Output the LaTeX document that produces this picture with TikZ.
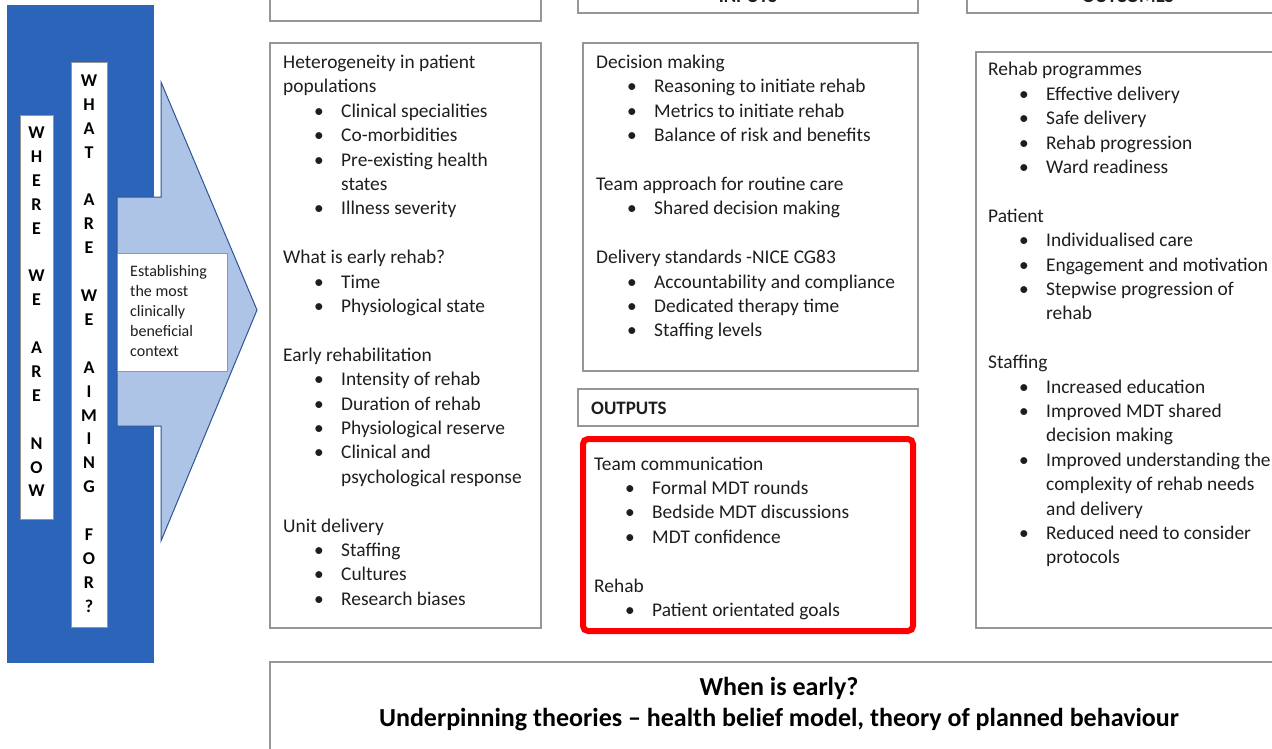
\documentclass[tikz,border=0pt]{standalone}
\usepackage{fontspec}
\setmainfont{Carlito}
\definecolor{panelblue}{RGB}{44,100,185}
\definecolor{arrowfill}{RGB}{174,196,230}
\definecolor{arrowline}{RGB}{47,85,151}
\definecolor{boxgray}{RGB}{150,150,150}
\definecolor{txt}{RGB}{30,30,30}
\newcommand\bl[1]{\hspace*{31pt}\makebox[27pt][l]{\textbullet}#1}
\newcommand\ct[1]{\hspace*{58pt}#1}
\begin{document}
\begin{tikzpicture}[x=1pt,y=-1pt,
  gbox/.style={draw=boxgray, line width=1.2pt, fill=white, inner sep=0pt, outer sep=0pt, anchor=north west},
  body/.style={anchor=base west, inner sep=0pt, text=txt, font=\fontsize{19.4}{24.4}\selectfont},
  vlet/.style={anchor=base, inner sep=0pt, text=black, font=\bfseries\fontsize{18}{23.9}\selectfont},
  hdr/.style={anchor=base, inner sep=0pt, text=txt, font=\bfseries\fontsize{19}{22}\selectfont}]
\useasboundingbox (0,0) rectangle (1272,749);
\clip (0,0) rectangle (1272,749);
\fill[white] (0,0) rectangle (1272,749);

% left blue panel
\node[fill=panelblue, inner sep=0pt, outer sep=0pt, anchor=north west, minimum width=147pt, minimum height=658pt] (panel) at (7,5) {};
\node[fill=white, draw=boxgray, line width=0.5pt, inner sep=0pt, outer sep=0pt, anchor=north west, minimum width=33pt, minimum height=404pt] (nowbox) at (20,115) {};
\node[vlet] (nowtxt) at (36.5,138.5) {\parbox[t]{30pt}{\centering W\\H\\E\\R\\E\\[23.9pt]W\\E\\[23.9pt]A\\R\\E\\[23.9pt]N\\O\\W}};
\node[fill=white, draw=boxgray, line width=0.5pt, inner sep=0pt, outer sep=0pt, anchor=north west, minimum width=36pt, minimum height=565pt] (aimbox) at (71,62) {};
\node[vlet] (aimtxt) at (89,86.5) {\parbox[t]{30pt}{\centering W\\H\\A\\T\\[23.9pt]A\\R\\E\\[23.9pt]W\\E\\[23.9pt]A\\I\\M\\I\\N\\G\\[23.9pt]F\\O\\R\\?}};

% arrow
\draw[fill=arrowfill, draw=arrowline, line width=1pt, line join=miter]
  (117,197) -- (161,197) -- (161,82) -- (257,310) -- (161,541) -- (161,426) -- (117,426) -- cycle;
\node[gbox, line width=0.8pt, minimum width=110pt, minimum height=118pt] (ctxbox) at (117,253) {};
\node[anchor=base west, inner sep=0pt, text=txt, font=\fontsize{16}{20}\selectfont] (ctxtxt) at (130,276)
  {\parbox[t]{95pt}{\raggedright Establishing\\the most\\clinically\\beneficial\\context}};

% header boxes
\node[gbox, minimum width=271pt, minimum height=60pt] (lhead) at (270,-39) {};
\node[gbox, minimum width=340pt, minimum height=53pt] (mhead) at (578,-40) {};
\node[hdr] (mheadtxt) at (748,2.5) {INPUTS};
\node[gbox, minimum width=323pt, minimum height=53pt] (rhead) at (967,-40) {};
\node[hdr] (rheadtxt) at (1128,2.5) {OUTCOMES};

% left main
\node[gbox, minimum width=271pt, minimum height=585pt] (lmain) at (270,43) {};
\node[body] (ltxt) at (283,68.5) {\parbox[t]{255pt}{\raggedright
Heterogeneity in patient\\
populations\\
\bl{Clinical specialities}\\
\bl{Co-morbidities}\\
\bl{Pre-existing health}\\
\ct{states}\\
\bl{Illness severity}\\[24.4pt]
What is early rehab?\\
\bl{Time}\\
\bl{Physiological state}\\[24.4pt]
Early rehabilitation\\
\bl{Intensity of rehab}\\
\bl{Duration of rehab}\\
\bl{Physiological reserve}\\
\bl{Clinical and}\\
\ct{psychological response}\\[24.4pt]
Unit delivery\\
\bl{Staffing}\\
\bl{Cultures}\\
\bl{Research biases}}};

% middle main
\node[gbox, minimum width=335pt, minimum height=328pt] (mmain) at (583,43) {};
\node[body] (mtxt) at (596,68.5) {\parbox[t]{320pt}{\raggedright
Decision making\\
\bl{Reasoning to initiate rehab}\\
\bl{Metrics to initiate rehab}\\
\bl{Balance of risk and benefits}\\[24.4pt]
Team approach for routine care\\
\bl{Shared decision making}\\[24.4pt]
Delivery standards -NICE CG83\\
\bl{Accountability and compliance}\\
\bl{Dedicated therapy time}\\
\bl{Staffing levels}}};

% outputs
\node[gbox, minimum width=340pt, minimum height=37pt] (outbox) at (578,389) {};
\node[anchor=base west, inner sep=0pt, text=txt, font=\bfseries\fontsize{19}{22}\selectfont] (outtxt) at (591,414) {OUTPUTS};
\node[draw=red, line width=6pt, rounded corners=5pt, fill=white, inner sep=0pt, outer sep=0pt, anchor=north west, minimum width=330pt, minimum height=192pt] (redbox) at (583,439) {};
\node[body] (rtxtred) at (594,470) {\parbox[t]{310pt}{\raggedright
Team communication\\
\bl{Formal MDT rounds}\\
\bl{Bedside MDT discussions}\\
\bl{MDT confidence}\\[24.4pt]
Rehab\\
\bl{Patient orientated goals}}};

% right main
\node[gbox, minimum width=314pt, minimum height=576pt] (rmain) at (976,52) {};
\node[body] (rtxt) at (988,76) {\parbox[t]{320pt}{\raggedright
Rehab programmes\\
\bl{Effective delivery}\\
\bl{Safe delivery}\\
\bl{Rehab progression}\\
\bl{Ward readiness}\\[24.4pt]
Patient\\
\bl{Individualised care}\\
\bl{Engagement and motivation}\\
\bl{Stepwise progression of}\\
\ct{rehab}\\[24.4pt]
Staffing\\
\bl{Increased education}\\
\bl{Improved MDT shared}\\
\ct{decision making}\\
\bl{Improved understanding the}\\
\ct{complexity of rehab needs}\\
\ct{and delivery}\\
\bl{Reduced need to consider}\\
\ct{protocols}}};

% bottom
\node[gbox, minimum width=1020pt, minimum height=100pt] (bottom) at (270,662) {};
\node[anchor=base, inner sep=0pt, text=black, font=\bfseries\fontsize{26}{31}\selectfont] (btxt) at (779,695)
  {\parbox[t]{1000pt}{\centering When is early?\\Underpinning theories – health belief model, theory of planned behaviour}};
\end{tikzpicture}
\end{document}
